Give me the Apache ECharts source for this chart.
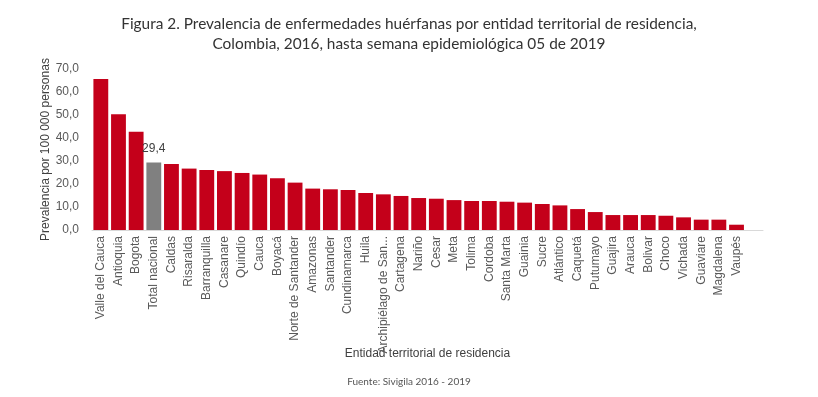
<!DOCTYPE html>
<html>
<head>
<meta charset="utf-8">
<script src="https://cdn.jsdelivr.net/npm/echarts@6/dist/echarts.min.js"></script>
<style>
html,body{margin:0;padding:0;background:#fff;}
#c{width:818px;height:397px;}
</style>
</head>
<body>
<div id="c"></div>
<script>
const categories = ["Valle del Cauca","Antioquia","Bogota","Total nacional","Caldas","Risaralda","Barranquilla","Casanare","Quindío","Cauca","Boyacá","Norte de Santander","Amazonas","Santander","Cundinamarca","Huila","Archipiélago de San...","Cartagena","Nariño","Cesar","Meta","Tolima","Cordoba","Santa Marta","Guainia","Sucre","Atlántico","Caquetá","Putumayo","Guajira","Arauca","Bolivar","Choco","Vichada","Guaviare","Magdalena","Vaupés",""];
const values = [65.7,50.3,42.7,29.4,28.7,26.7,26.1,25.6,24.8,24.1,22.5,20.6,18.0,17.7,17.4,16.1,15.5,14.8,13.9,13.6,13.0,12.6,12.6,12.3,11.9,11.3,10.7,9.1,7.8,6.5,6.5,6.5,6.2,5.5,4.5,4.5,2.3,null];
const highlighted = "Total nacional";
const yTicks = {min:0, max:70, interval:10};

const chart = echarts.init(document.getElementById('c'), null, {renderer:'canvas'});
const fmt = v => v.toFixed(1).replace('.', ',');
chart.setOption({
  animation:false,
  title:[{
    text:'Figura 2. Prevalencia de enfermedades huérfanas por entidad territorial de residencia,\nColombia, 2016, hasta semana epidemiológica 05 de 2019',
    left:'center', top:9,
    textStyle:{fontFamily:'Lato', fontSize:15.4, fontWeight:'normal', color:'#333', lineHeight:20, align:'center'}
  },{
    text:'Fuente: Sivigila 2016 - 2019',
    left:'center', top:372,
    textStyle:{fontFamily:'Lato', fontSize:10, fontWeight:'normal', color:'#555'}
  }],
  grid:{left:92, right:55, top:69, bottom:167, containLabel:false},
  xAxis:{
    type:'category', data:categories,
    axisLine:{lineStyle:{color:'#d9d9d9'}},
    axisTick:{show:false},
    axisLabel:{rotate:90, interval:0, fontFamily:'Liberation Sans', fontSize:12, color:'#595959', margin:6},
    name:'Entidad territorial de residencia', nameLocation:'middle', nameGap:118,
    nameMoveOverlap:false,
    nameTextStyle:{fontFamily:'Liberation Sans', fontSize:12, color:'#404040'}
  },
  yAxis:{
    type:'value', min:yTicks.min, max:yTicks.max, interval:yTicks.interval,
    axisLine:{show:false}, axisTick:{show:false}, splitLine:{show:false},
    axisLabel:{formatter:fmt, fontFamily:'Liberation Sans', fontSize:12, color:'#595959', margin:13},
    name:'Prevalencia por 100 000 personas', nameLocation:'middle', nameGap:40,
    nameMoveOverlap:false,
    nameTextStyle:{fontFamily:'Liberation Sans', fontSize:12, color:'#404040'}
  },
  series:[{
    type:'bar', data:values.map((v,i)=>({
      value:v,
      itemStyle:{color: categories[i]===highlighted ? '#808080' : '#c4001a'},
      label:{show: categories[i]===highlighted}
    })),
    barCategoryGap:'16%',
    label:{show:false, position:'top', distance:8, formatter:p=>fmt(p.value), fontFamily:'Liberation Sans', fontSize:12, color:'#404040'}
  }]
});
</script>
</body>
</html>
